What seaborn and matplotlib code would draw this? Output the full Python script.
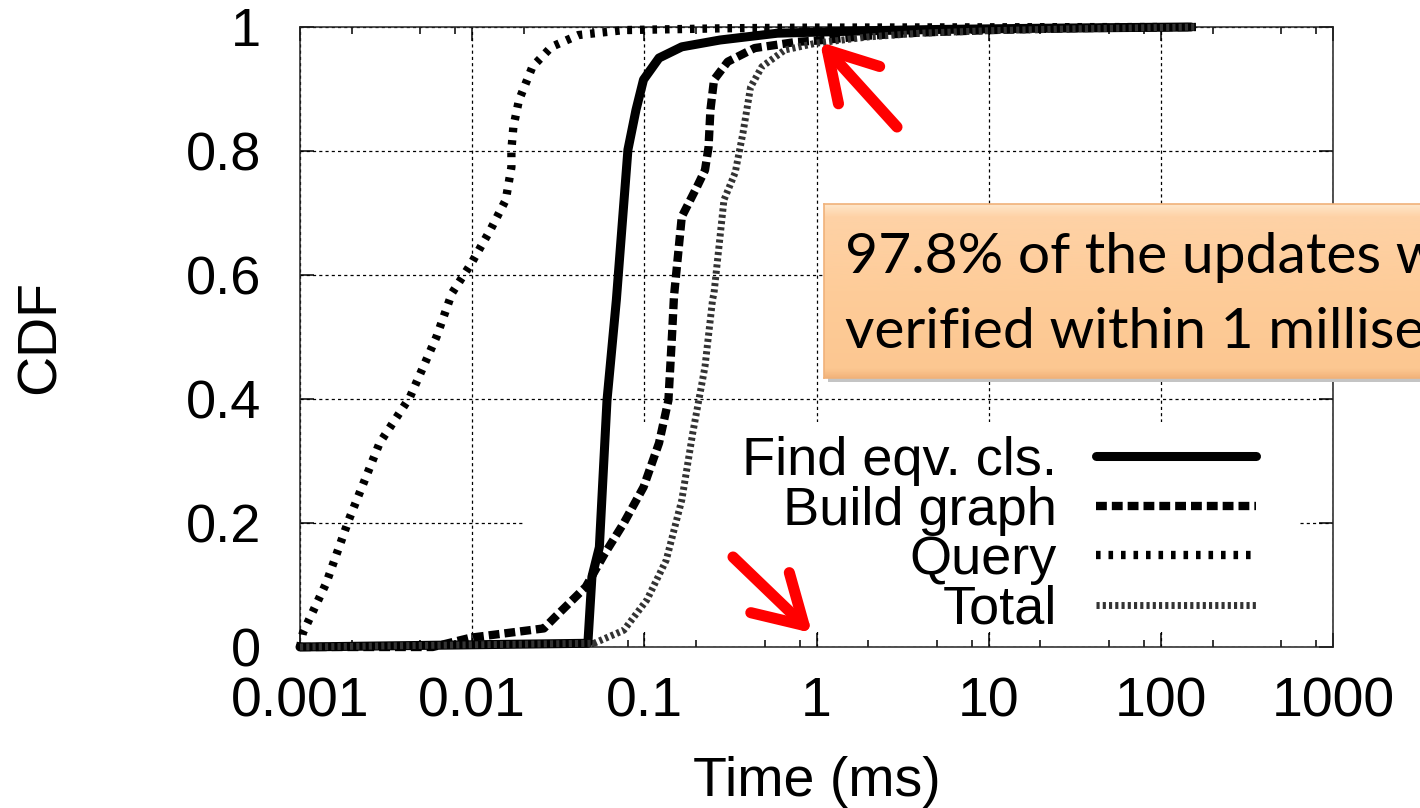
import numpy as np
import pandas as pd
import matplotlib
matplotlib.use("Agg")
import matplotlib.pyplot as plt
import seaborn as sns
from matplotlib.ticker import LogLocator, NullFormatter, FixedLocator, FixedFormatter
from matplotlib.patches import Rectangle
from matplotlib.colors import LinearSegmentedColormap

# values: time in ms, cumulative fraction
find_t = [0.001, 0.047, 0.0496, 0.0548, 0.0607, 0.0688, 0.0803, 0.0894, 0.0989,
          0.1217, 0.165, 0.275, 0.593, 2, 5, 20, 150]
find_cdf = [0, 0.006, 0.113, 0.161, 0.398, 0.56, 0.802, 0.866, 0.915,
            0.95, 0.968, 0.979, 0.99, 0.994, 0.996, 0.998, 1.0]

build_t = [0.001, 0.0059, 0.0098, 0.0261, 0.0305, 0.0457, 0.059, 0.076, 0.099,
           0.1217, 0.138, 0.145, 0.1486, 0.165, 0.202, 0.225, 0.236, 0.242,
           0.254, 0.305, 0.437, 0.765, 1.0, 2, 4, 10, 30, 160]
build_cdf = [0, 0, 0.015, 0.03, 0.049, 0.097, 0.151, 0.2, 0.258,
             0.329, 0.398, 0.506, 0.565, 0.694, 0.742, 0.769, 0.806, 0.866,
             0.915, 0.944, 0.966, 0.976, 0.978, 0.986, 0.991, 0.995, 0.998, 1.0]

query_t = [0.001, 0.00104, 0.00142, 0.00192, 0.0029, 0.00435, 0.0062, 0.00764,
           0.0099, 0.01277, 0.01567, 0.0169, 0.0169, 0.01735, 0.0187, 0.0224,
           0.0289, 0.0414, 0.076, 0.3, 1, 100]
query_cdf = [0, 0.023, 0.103, 0.205, 0.329, 0.403, 0.5, 0.571,
             0.619, 0.673, 0.721, 0.774, 0.802, 0.839, 0.882, 0.936,
             0.968, 0.987, 0.995, 0.998, 0.999, 1.0]

total_t = [0.001, 0.051, 0.076, 0.1035, 0.134, 0.165, 0.191, 0.225, 0.249,
           0.254, 0.29, 0.337, 0.374, 0.414, 0.482, 0.655, 1.0, 2, 4, 10, 30, 160]
total_cdf = [0, 0.006, 0.027, 0.076, 0.14, 0.237, 0.345, 0.452, 0.56,
             0.571, 0.721, 0.765, 0.829, 0.903, 0.936, 0.963, 0.974, 0.984,
             0.99, 0.994, 0.997, 1.0]

series_names = ["Find eqv. cls.", "Build graph", "Query", "Total"]
x_ticks = [0.001, 0.01, 0.1, 1, 10, 100, 1000]
x_tick_labels = ["0.001", "0.01", "0.1", "1", "10", "100", "1000"]
y_ticks = [0, 0.2, 0.4, 0.6, 0.8, 1]
y_tick_labels = ["0", "0.2", "0.4", "0.6", "0.8", "1"]

sns.set_theme(style="ticks")
plt.rcParams["font.family"] = ["Liberation Sans", "DejaVu Sans"]
plt.rcParams["text.color"] = "black"
plt.rcParams["axes.labelcolor"] = "black"
plt.rcParams["xtick.color"] = "black"
plt.rcParams["ytick.color"] = "black"

W, H = 1420, 808
fig = plt.figure(figsize=(W / 100, H / 100), dpi=100)
ax = fig.add_axes([300 / W, 1 - 647 / H, 1033 / W, 620 / H])

styles = {
    "Find eqv. cls.": dict(color="black", lw=6.5, linestyle="-"),
    "Build graph": dict(color="black", lw=6, linestyle=(0, (1.3, 0.6))),
    "Query": dict(color="black", lw=6, linestyle=(0, (0.55, 0.95))),
    "Total": dict(color="#333333", lw=5, linestyle=(0, (0.45, 0.45))),
}
curves = {
    "Find eqv. cls.": (find_t, find_cdf),
    "Build graph": (build_t, build_cdf),
    "Query": (query_t, query_cdf),
    "Total": (total_t, total_cdf),
}

for name in series_names:
    t, c = curves[name]
    df = pd.DataFrame({"t": t, "cdf": c})
    sns.lineplot(data=df, x="t", y="cdf", ax=ax, estimator=None, sort=False,
                 label=name, clip_on=False, zorder=3, **styles[name])

ax.set_xscale("log")
ax.set_xlim(1e-3, 1e3)
ax.set_ylim(0, 1)
ax.xaxis.set_major_locator(FixedLocator(x_ticks))
ax.xaxis.set_major_formatter(FixedFormatter(x_tick_labels))
ax.xaxis.set_minor_locator(LogLocator(base=10, subs=(2, 5, 8)))
ax.xaxis.set_minor_formatter(NullFormatter())
ax.set_yticks(y_ticks)
ax.set_yticklabels(y_tick_labels)

ax.tick_params(which="both", direction="in", top=True, right=True, color="black")
ax.tick_params(which="major", length=10, width=1.1)
ax.tick_params(which="minor", length=5, width=1.1)
ax.tick_params(axis="x", labelsize=40, pad=21)
ax.tick_params(axis="y", labelsize=39, pad=28)

ax.set_axisbelow(True)
ax.grid(True, which="major", color="black", lw=0.9, linestyle=(0, (2.5, 2.5)))
for s in ax.spines.values():
    s.set_color("#222222")
    s.set_linewidth(1.1)

ax.set_xlabel("Time (ms)", fontsize=40, labelpad=20)
ax.set_ylabel("CDF", fontsize=40)
ax.yaxis.set_label_coords(-0.226, 0.5)

# opaque key area (hides the grid behind the key)
ax.add_patch(Rectangle((0.216, 0.025), 0.751, 0.338, transform=ax.transAxes,
                       facecolor="white", edgecolor="none", zorder=1))

leg = ax.legend(loc="lower right", bbox_to_anchor=(0.925, 0.02), frameon=False,
                markerfirst=False, fontsize=39, handlelength=2.95,
                handletextpad=0.72, labelspacing=-0.01, borderpad=0,
                borderaxespad=0)
leg.set_zorder(5)

# call-out box
bx0, by0, bh = 824 / W, 1 - 378 / H, 174 / H
sh = fig.add_axes([bx0 + 4 / W, by0 - 4 / H, 0.6, bh])
sh.axis("off")
sh.add_patch(Rectangle((0, 0), 1, 1, transform=sh.transAxes, color="#c4c4c4"))
bax = fig.add_axes([bx0, by0, 0.6, bh])
grad = LinearSegmentedColormap.from_list(
    "peach", [(0, "#f3b47c"), (0.05, "#fcc791"), (0.5, "#fecc99"),
              (0.93, "#fed2a6"), (1, "#ffe6c9")])
bax.imshow(np.linspace(0, 1, 200)[:, None], cmap=grad, aspect="auto",
           origin="lower", extent=(0, 1, 0, 1))
bax.set_xlim(0, 1)
bax.set_ylim(0, 1)
for s in bax.spines.values():
    s.set_color("#f0b27a")
    s.set_linewidth(1.2)
bax.set_xticks([])
bax.set_yticks([])

fig.text(845 / W, 1 - 273 / H, "97.8% of the updates were", fontsize=41,
         family=["Lato", "DejaVu Sans"], va="baseline", ha="left", zorder=10,
         color="black")
fig.text(845 / W, 1 - 348 / H, "verified within 1 millisecond", fontsize=41,
         family=["Lato", "DejaVu Sans"], va="baseline", ha="left", zorder=10,
         color="black")

# red arrows
arrow_kw = dict(arrowstyle="->,head_length=0.85,head_width=0.5", color="#ff0000",
                lw=8, mutation_scale=40, shrinkA=0, shrinkB=0,
                capstyle="round", joinstyle="round")
ax.annotate("", xy=(820, H - 42), xycoords="figure pixels",
            xytext=(897, H - 127), textcoords="figure pixels",
            arrowprops=arrow_kw, annotation_clip=False, zorder=8)
ax.annotate("", xy=(812, H - 633), xycoords="figure pixels",
            xytext=(733, H - 557), textcoords="figure pixels",
            arrowprops=arrow_kw, annotation_clip=False, zorder=8)

fig.savefig("out.png", dpi=100)
